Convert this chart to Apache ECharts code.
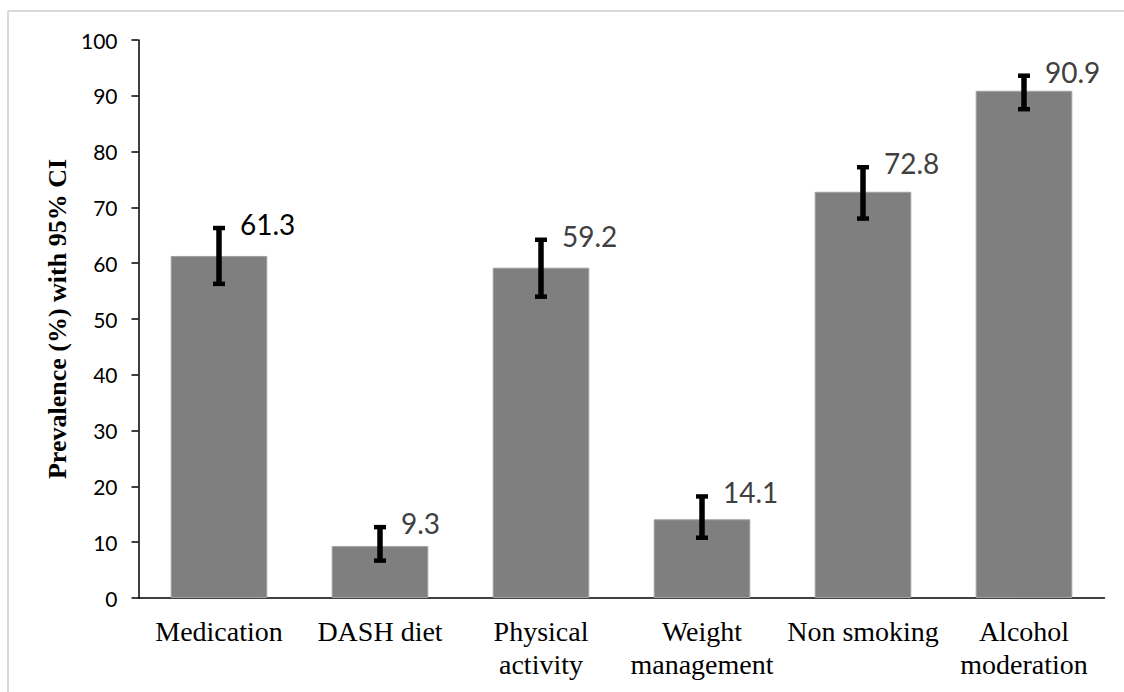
<!DOCTYPE html>
<html>
<head>
<meta charset="utf-8">
<script src="https://cdn.jsdelivr.net/npm/echarts@6/dist/echarts.min.js"></script>
<style>
html,body{margin:0;padding:0;background:#fff;}
#chart{width:1124px;height:692px;}
</style>
</head>
<body>
<div id="chart"></div>
<script>
// ---- data ----
var categories = ['Medication', 'DASH diet', 'Physical\nactivity', 'Weight\nmanagement', 'Non smoking', 'Alcohol\nmoderation'];
var prevalence = [61.3, 9.3, 59.2, 14.1, 72.8, 90.9];
var ciLower = [56.3, 6.7, 54.0, 10.8, 68.0, 87.6];
var ciUpper = [66.3, 12.7, 64.2, 18.2, 77.2, 93.6];
var yTicks = [0, 10, 20, 30, 40, 50, 60, 70, 80, 90, 100];
var labelColors = ['#000000', '#404040', '#404040', '#404040', '#404040', '#404040'];

var errData = prevalence.map(function (v, i) { return [i, ciLower[i], ciUpper[i], v]; });

var chart = echarts.init(document.getElementById('chart'), null, { renderer: 'svg' });

var option = {
  animation: false,
  backgroundColor: '#ffffff',
  graphic: [
    { type: 'line', shape: { x1: 8, y1: 11, x2: 1124, y2: 11 }, style: { stroke: '#d9d9d9', lineWidth: 2 }, silent: true },
    { type: 'line', shape: { x1: 8, y1: 11, x2: 8, y2: 692 }, style: { stroke: '#d9d9d9', lineWidth: 2 }, silent: true }
  ],
  grid: { left: 138.5, right: 19.5, top: 40, bottom: 94, containLabel: false, outerBoundsMode: 'none' },
  xAxis: {
    type: 'category',
    data: categories,
    axisLine: { lineStyle: { color: '#000', width: 1.5 } },
    axisTick: { show: false },
    axisLabel: {
      interval: 0,
      margin: 17,
      fontFamily: '"Liberation Serif", "Times New Roman", serif',
      fontSize: 28,
      lineHeight: 33,
      color: '#000'
    },
    splitLine: { show: false }
  },
  yAxis: {
    type: 'value',
    min: yTicks[0],
    max: yTicks[yTicks.length - 1],
    interval: yTicks[1] - yTicks[0],
    name: 'Prevalence (%) with 95% CI',
    nameLocation: 'middle',
    nameGap: 68,
    nameTextStyle: {
      fontFamily: '"Liberation Serif", "Times New Roman", serif',
      fontWeight: 'bold',
      fontSize: 26,
      color: '#000'
    },
    axisLine: { show: true, lineStyle: { color: '#000', width: 1.5 } },
    axisTick: { show: true, length: 7, lineStyle: { color: '#000', width: 1.5 } },
    axisLabel: {
      margin: 21,
      fontFamily: 'Lato, "Noto Sans", sans-serif',
      fontSize: 21,
      color: '#000'
    },
    splitLine: { show: false }
  },
  series: [
    {
      type: 'bar',
      data: prevalence,
      barCategoryGap: '40%',
      itemStyle: { color: '#7f7f7f', borderColor: '#a0a0a0', borderWidth: 1 },
      label: { show: false },
      z: 2
    },
    {
      type: 'custom',
      data: errData,
      z: 5,
      renderItem: function (params, api) {
        var idx = api.value(0);
        var lo = api.coord([idx, api.value(1)]);
        var hi = api.coord([idx, api.value(2)]);
        var x = lo[0];
        var capW = 12;
        var i = params.dataIndex;
        return {
          type: 'group',
          children: [
            { type: 'line', shape: { x1: x, y1: hi[1], x2: x, y2: lo[1] }, style: { stroke: '#000', lineWidth: 5.5 } },
            { type: 'line', shape: { x1: x - capW / 2, y1: hi[1], x2: x + capW / 2, y2: hi[1] }, style: { stroke: '#000', lineWidth: 4.5 } },
            { type: 'line', shape: { x1: x - capW / 2, y1: lo[1], x2: x + capW / 2, y2: lo[1] }, style: { stroke: '#000', lineWidth: 4.5 } },
            {
              type: 'text',
              style: {
                text: String(api.value(3).toFixed(1)),
                x: x + 21,
                y: hi[1] - 4,
                align: 'left',
                verticalAlign: 'middle',
                font: '28px Lato, "Noto Sans", sans-serif',
                fill: labelColors[i]
              }
            }
          ]
        };
      }
    }
  ]
};
chart.setOption(option);
</script>
</body>
</html>
